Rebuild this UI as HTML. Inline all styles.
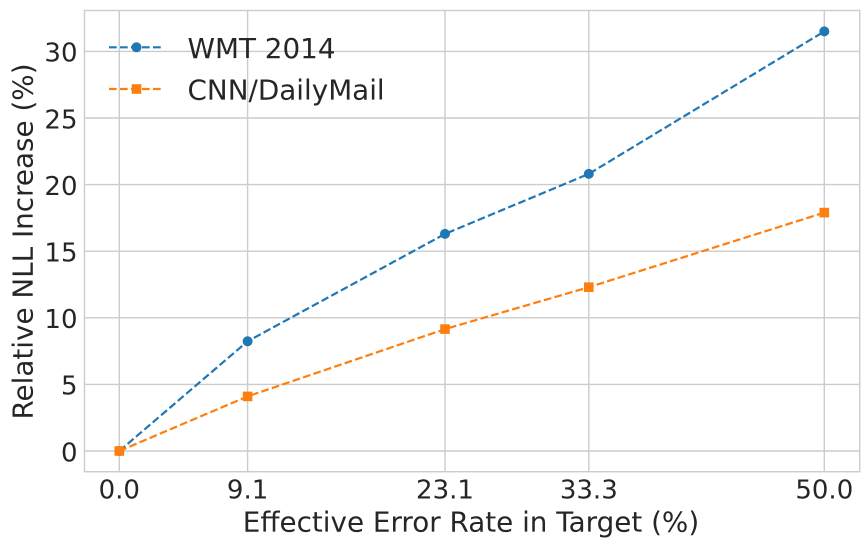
<!DOCTYPE html>
<html>
<head>
<meta charset="utf-8">
<style>
html,body{margin:0;padding:0;background:#ffffff;}
svg{display:block;}
text{font-family:"DejaVu Sans","Liberation Sans",sans-serif;fill:#262626;}
</style>
</head>
<body>
<svg width="868" height="548" viewBox="0 0 868 548" xmlns="http://www.w3.org/2000/svg">
<rect x="0" y="0" width="868" height="548" fill="#ffffff"/>
<!-- grid -->
<g stroke="#cccccc" stroke-width="1.4" fill="none">
<line x1="119.3" y1="10.5" x2="119.3" y2="471.7"/>
<line x1="247.6" y1="10.5" x2="247.6" y2="471.7"/>
<line x1="445.0" y1="10.5" x2="445.0" y2="471.7"/>
<line x1="588.8" y1="10.5" x2="588.8" y2="471.7"/>
<line x1="824.3" y1="10.5" x2="824.3" y2="471.7"/>
<line x1="84.5" y1="451" x2="859.7" y2="451"/>
<line x1="84.5" y1="384.4" x2="859.7" y2="384.4"/>
<line x1="84.5" y1="317.8" x2="859.7" y2="317.8"/>
<line x1="84.5" y1="251.2" x2="859.7" y2="251.2"/>
<line x1="84.5" y1="184.6" x2="859.7" y2="184.6"/>
<line x1="84.5" y1="118" x2="859.7" y2="118"/>
<line x1="84.5" y1="51.4" x2="859.7" y2="51.4"/>
<rect x="84.5" y="10.5" width="775.2" height="461.2"/>
</g>
<!-- y tick labels -->
<g font-size="26" text-anchor="end">
<text x="77.5" y="461.3">0</text>
<text x="77.5" y="394.7">5</text>
<text x="77.5" y="328.1">10</text>
<text x="77.5" y="261.5">15</text>
<text x="77.5" y="194.9">20</text>
<text x="77.5" y="128.3">25</text>
<text x="77.5" y="61.7">30</text>
</g>
<!-- x tick labels -->
<g font-size="26" text-anchor="middle">
<text x="119.3" y="498.5">0.0</text>
<text x="247.6" y="498.5">9.1</text>
<text x="445.0" y="498.5">23.1</text>
<text x="588.8" y="498.5">33.3</text>
<text x="824.3" y="498.5">50.0</text>
</g>
<!-- axis labels -->
<text x="471" y="531.7" font-size="27.8" text-anchor="middle">Effective Error Rate in Target (%)</text>
<text transform="translate(32.3,241.5) rotate(-90)" font-size="27.8" text-anchor="middle">Relative NLL Increase (%)</text>
<!-- WMT series -->
<polyline points="119.3,451 247.6,341.3 445.0,233.9 588.8,173.9 824.3,31.4" fill="none" stroke="#1f77b4" stroke-width="2.2" stroke-dasharray="7.7 3.3"/>
<g fill="#1f77b4">
<circle cx="119.3" cy="451" r="5"/>
<circle cx="247.6" cy="341.3" r="5"/>
<circle cx="445.0" cy="233.9" r="5"/>
<circle cx="588.8" cy="173.9" r="5"/>
<circle cx="824.3" cy="31.4" r="5"/>
</g>
<!-- CNN series -->
<polyline points="119.3,451 247.6,396.4 445.0,329.1 588.8,287.2 824.3,212.6" fill="none" stroke="#ff7f0e" stroke-width="2.2" stroke-dasharray="7.7 3.3"/>
<g fill="#ff7f0e">
<rect x="114.5" y="446.2" width="9.6" height="9.6"/>
<rect x="242.8" y="391.6" width="9.6" height="9.6"/>
<rect x="440.2" y="324.3" width="9.6" height="9.6"/>
<rect x="584.0" y="282.4" width="9.6" height="9.6"/>
<rect x="819.5" y="207.8" width="9.6" height="9.6"/>
</g>
<!-- legend -->
<line x1="109" y1="47.3" x2="161" y2="47.3" stroke="#1f77b4" stroke-width="2.2" stroke-dasharray="7.7 3.3"/>
<circle cx="136.5" cy="47.3" r="5" fill="#1f77b4"/>
<text x="187.5" y="58" font-size="27.8">WMT 2014</text>
<line x1="109" y1="89" x2="161" y2="89" stroke="#ff7f0e" stroke-width="2.2" stroke-dasharray="7.7 3.3"/>
<rect x="131.7" y="84.2" width="9.6" height="9.6" fill="#ff7f0e"/>
<text x="187.5" y="99.7" font-size="27.8">CNN/DailyMail</text>
</svg>
</body>
</html>
